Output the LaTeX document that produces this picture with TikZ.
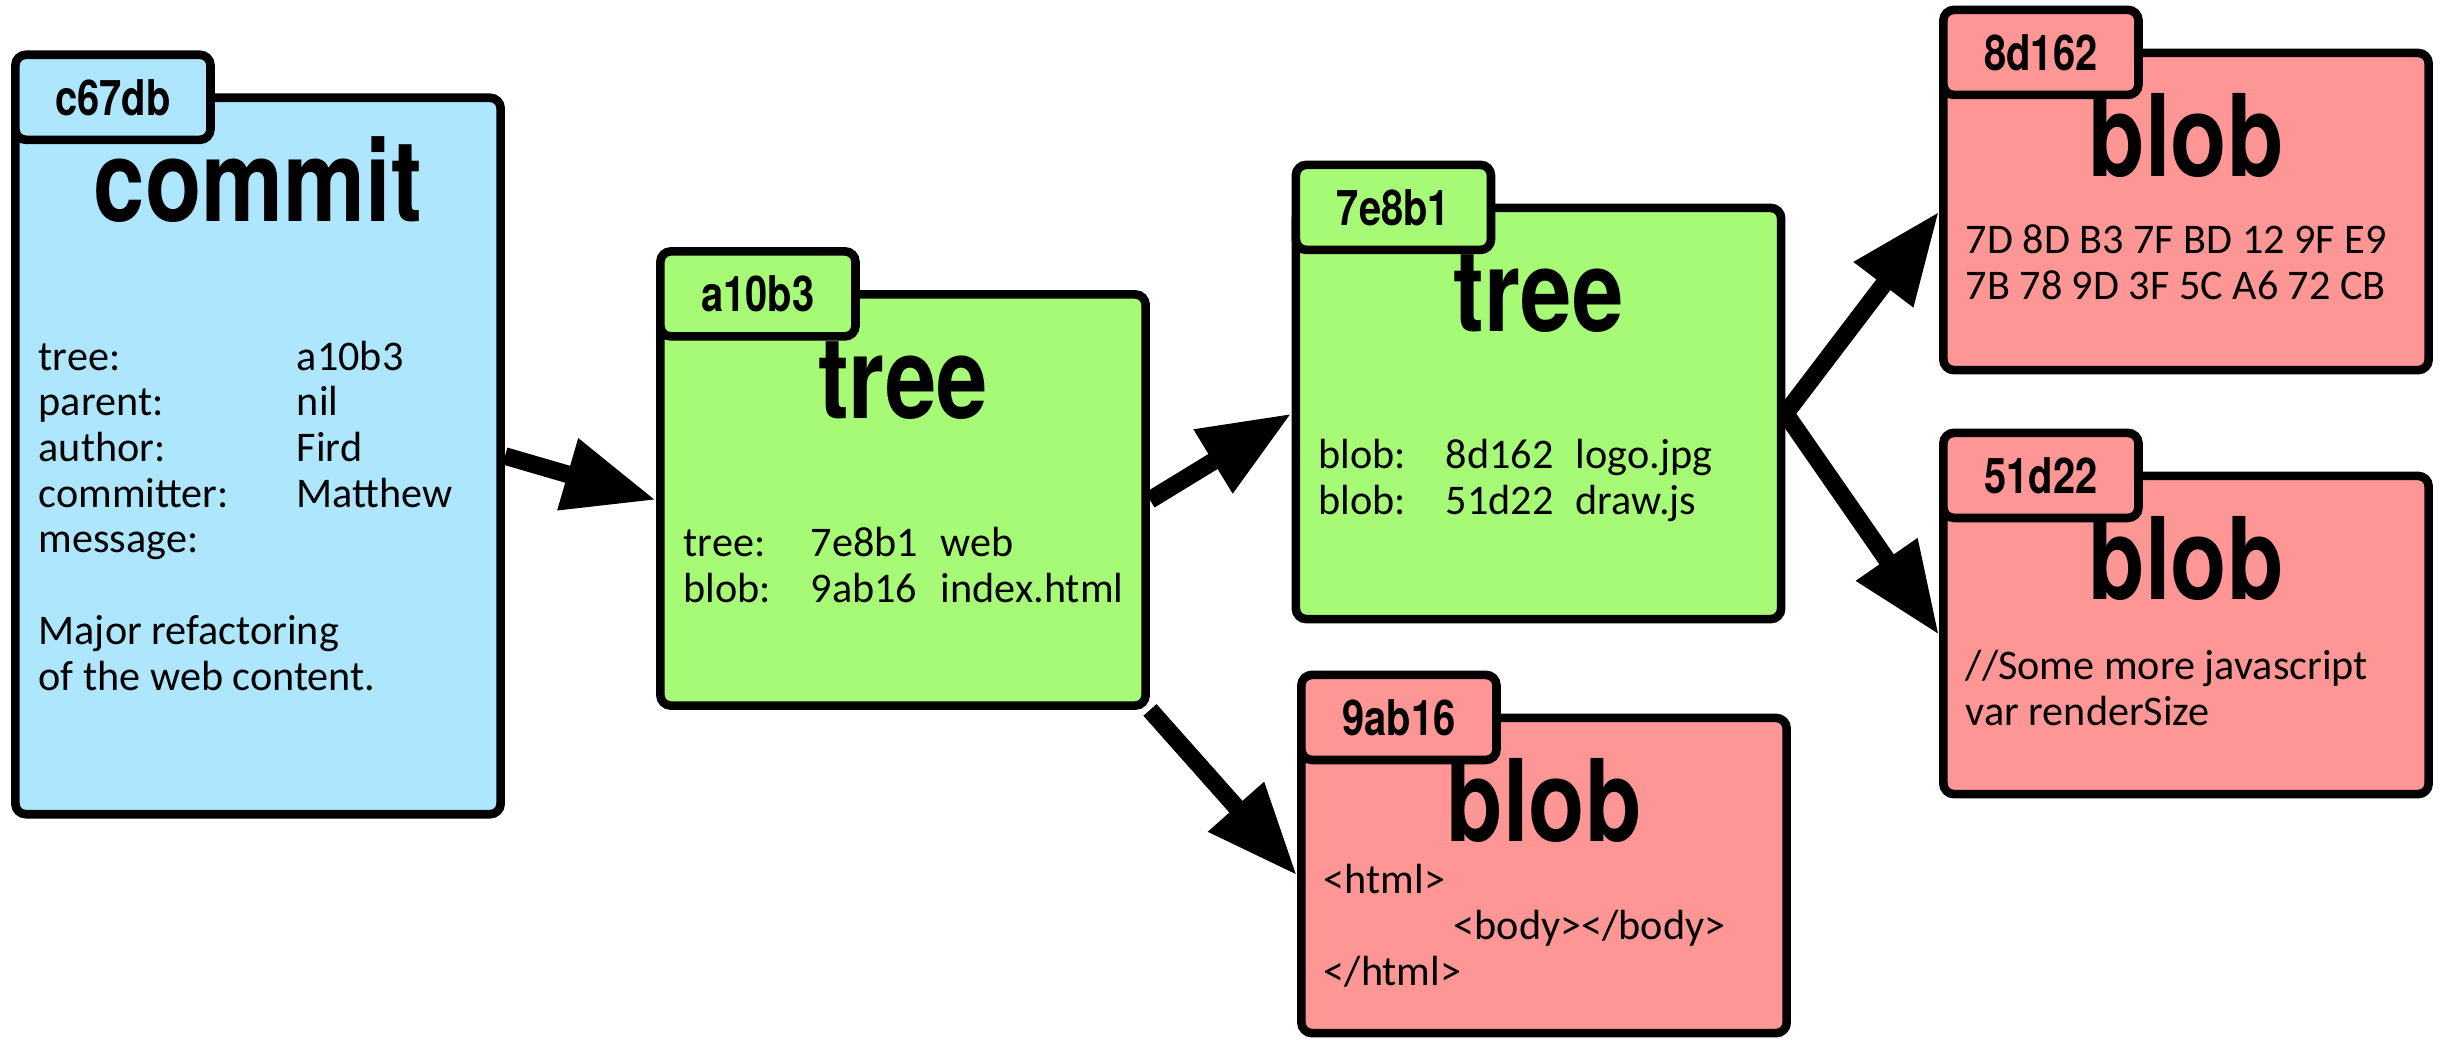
\documentclass[tikz,border=0pt]{standalone}
\usepackage{fontspec}
\usepackage{xcolor}
\usepackage{tikz}
\usetikzlibrary{arrows.meta}
\newfontfamily\bodyfont{Carlito}
\newfontfamily\headfont[FakeStretch=0.81]{TeX Gyre Heros}
\definecolor{commitblue}{RGB}{174,230,254}
\definecolor{treegreen}{RGB}{166,250,118}
\definecolor{blobred}{RGB}{254,150,150}
\newcommand{\colA}[1]{\makebox[1.27cm][l]{#1}}
\newcommand{\colB}[1]{\makebox[1.30cm][l]{#1}}
\newcommand{\colC}[1]{\makebox[2.58cm][l]{#1}}

\begin{document}
\begin{tikzpicture}[x=0.01cm, y=-0.01cm,
    box/.style={draw, line width=2.45pt, rounded corners=3pt, minimum width=4.85cm, inner sep=0pt},
    tab/.style={box, minimum width=1.95cm, minimum height=0.85cm, anchor=north west, yshift=0.43cm,
        font=\headfont\bfseries\fontsize{14pt}{15pt}\selectfont},
    kind/.style={anchor=base, yshift=-1.28cm, inner sep=0pt,
        font=\headfont\bfseries\fontsize{32.4pt}{34pt}\selectfont},
    body/.style={anchor=base west, inner sep=0pt, align=left,
        font=\bodyfont\fontsize{12pt}{13pt}\selectfont},
    link/.style={line width=5pt, -{Triangle[length=0.92cm, width=0.70cm]}}]
    \useasboundingbox (0,0) rectangle (2449,1039);

    % Commit (body nodes sit on their last baseline)
    \node[box, fill=commitblue, minimum height=7.16cm] (c67db) at (258,456) {};
    \node[tab, fill=commitblue] (c67dbtab) at (c67db.north west) {c67db};
    \node[kind] (c67dbkind) at (c67db.north) {commit};
    \node[body] (c67dbbody) at (38,690) {\colC{tree:}a10b3\\ \colC{parent:}nil\\
        \colC{author:}Fird\\ \colC{committer:}Matthew\\ message:\\[13pt]
        Major refactoring\\ of the web content.};

    % Top tree
    \node[box, fill=treegreen, minimum height=4.11cm] (a10b3) at (903,500) {};
    \node[tab, fill=treegreen] (a10b3tab) at (a10b3.north west) {a10b3};
    \node[kind] (a10b3kind) at (a10b3.north) {tree};
    \node[body] (a10b3body) at (683,602) {\colA{tree:}\colB{7e8b1}web\\
        \colA{blob:}\colB{9ab16}index.html};

    % Sub tree
    \node[box, fill=treegreen, minimum height=4.11cm] (7e8b1) at (1538.5,413.5) {};
    \node[tab, fill=treegreen] (7e8b1tab) at (7e8b1.north west) {7e8b1};
    \node[kind] (7e8b1kind) at (7e8b1.north) {tree};
    \node[body] (7e8b1body) at (1318,514) {\colA{blob:}\colB{8d162}logo.jpg\\
        \colA{blob:}\colB{51d22}draw.js};

    % Blobs
    \node[box, fill=blobred, minimum height=3.15cm] (9ab16) at (1544,875.5) {};
    \node[tab, fill=blobred] (9ab16tab) at (9ab16.north west) {9ab16};
    \node[kind] (9ab16kind) at (9ab16.north) {blob};
    \node[body] (9ab16body) at (1323,985) {<html>\\ \hspace*{1.30cm}<body></body>\\ </html>};

    \node[box, fill=blobred, minimum height=3.17cm] (8d162) at (2186,211.5) {};
    \node[tab, fill=blobred] (8d162tab) at (8d162.north west) {8d162};
    \node[kind] (8d162kind) at (8d162.north) {blob};
    \node[body] (8d162body) at (1965,299) {7D 8D B3 7F BD 12 9F E9\\ 7B 78 9D 3F 5C A6 72 CB};

    \node[box, fill=blobred, minimum height=3.18cm] (51d22) at (2186,635) {};
    \node[tab, fill=blobred] (51d22tab) at (51d22.north west) {51d22};
    \node[kind] (51d22kind) at (51d22.north) {blob};
    \node[body] (51d22body) at (1965,725) {//Some more javascript\\ var renderSize};

    % Links
    \draw[link] (c67db.east) -- (a10b3.west);
    \draw[link] (a10b3.east) -- (7e8b1.west);
    \draw[link] (a10b3.south east) -- (9ab16.west);
    \draw[link] (7e8b1.east) -- (8d162.west);
    \draw[link] (7e8b1.east) -- (51d22.west);
\end{tikzpicture}
\end{document}
